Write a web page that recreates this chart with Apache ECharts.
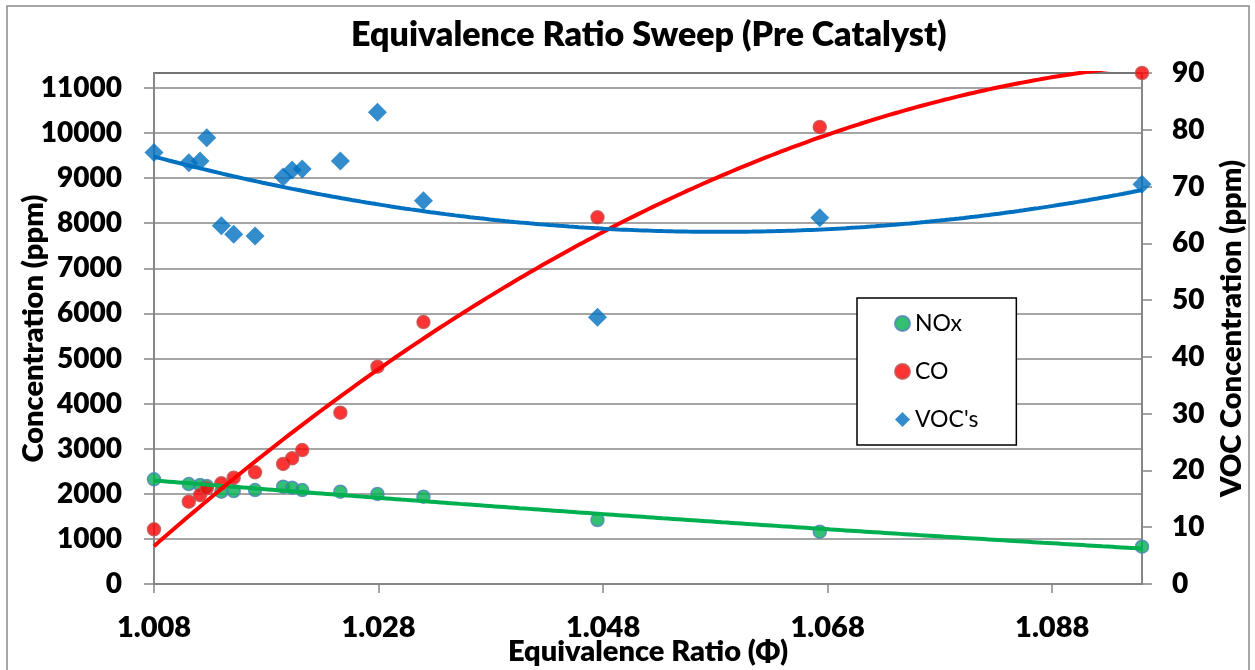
<!DOCTYPE html>
<html>
<head>
<meta charset="utf-8">
<script src="https://cdn.jsdelivr.net/npm/echarts@6/dist/echarts.min.js"></script>
<style>
html,body{margin:0;padding:0;background:#fff;}
#chart{width:1255px;height:670px;}
</style>
</head>
<body>
<div id="chart"></div>
<script>
// ---- data ----
const phi = [1.008, 1.0111, 1.0121, 1.0127, 1.0140, 1.0151, 1.0170, 1.0195, 1.0203, 1.0212, 1.0246, 1.0279, 1.0320, 1.0475, 1.0673, 1.0960];
const noxVals = [2321, 2217, 2195, 2173, 2047, 2062, 2084, 2157, 2135, 2084, 2047, 1996, 1936, 1419, 1160, 827];
const coVals = [1213, 1825, 1973, 2122, 2233, 2357, 2477, 2661, 2787, 2971, 3798, 4818, 5809, 8131, 10133, 11330];
const vocVals = [76.0, 74.2, 74.5, 78.6, 63.1, 61.6, 61.3, 71.7, 72.9, 73.1, 74.5, 83.1, 67.5, 47.0, 64.5, 70.4];
const xTicks = {min: 1.008, max: 1.096, interval: 0.02};
const leftTicks = {min: 0, max: 11330, interval: 1000};
const rightTicks = {min: 0, max: 90, interval: 10};
const seriesNames = ['NOx', 'CO', "VOC's"];

// ---- 2nd order polynomial trendline (least squares, like Excel) ----
function polyFit2(xs, ys) {
  const c = 1.05, k = 100;
  let S = [0,0,0,0,0], T = [0,0,0];
  for (let i = 0; i < xs.length; i++) {
    const t = (xs[i] - c) * k;
    let p = 1;
    for (let j = 0; j < 5; j++) { S[j] += p; if (j < 3) T[j] += p * ys[i]; p *= t; }
  }
  const A = [[S[0],S[1],S[2],T[0]],[S[1],S[2],S[3],T[1]],[S[2],S[3],S[4],T[2]]];
  for (let i = 0; i < 3; i++) {
    for (let r = i + 1; r < 3; r++) {
      const f = A[r][i] / A[i][i];
      for (let q = i; q < 4; q++) A[r][q] -= f * A[i][q];
    }
  }
  const b = [0,0,0];
  for (let i = 2; i >= 0; i--) {
    let s = A[i][3];
    for (let q = i + 1; q < 3; q++) s -= A[i][q] * b[q];
    b[i] = s / A[i][i];
  }
  return x => { const t = (x - c) * k; return b[0] + b[1] * t + b[2] * t * t; };
}
function trend(xs, ys) {
  const f = polyFit2(xs, ys);
  const out = [];
  const n = 200;
  for (let i = 0; i <= n; i++) {
    const x = xTicks.min + (xTicks.max - xTicks.min) * i / n;
    out.push([x, f(x)]);
  }
  return out;
}
const pair = (xs, ys) => xs.map((x, i) => [x, ys[i]]);

const FONT = 'Lato';
const BOLD = 800;
const GRAY = '#878787';
const chart = echarts.init(document.getElementById('chart'));
chart.setOption({
  animation: false,
  backgroundColor: '#fff',
  title: {
    text: 'Equivalence Ratio Sweep (Pre Catalyst)',
    left: 346, top: 13,
    textStyle: {fontFamily: FONT, fontWeight: BOLD, fontSize: 34, color: '#000'}
  },
  graphic: [{
    type: 'rect', shape: {x: 7, y: 6, width: 1242, height: 700},
    style: {fill: 'none', stroke: '#8a8a8a', lineWidth: 1.5}, silent: true, z: -10
  }],
  grid: {left: 154, right: 113, top: 73, bottom: 86, outerBoundsMode: 'none', containLabel: false,
    show: true, borderColor: '#000', borderWidth: 1.5, backgroundColor: '#fff'},
  legend: {
    orient: 'vertical', left: 857, top: 298,
    data: seriesNames,
    itemWidth: 15, itemHeight: 15, itemGap: 25,
    padding: [14, 38, 14, 37],
    backgroundColor: '#fff', borderColor: '#000', borderWidth: 1.5,
    textStyle: {fontFamily: FONT, fontSize: 23, color: '#000', lineHeight: 23}
  },
  xAxis: {
    type: 'value', min: xTicks.min, max: xTicks.max, interval: xTicks.interval,
    name: 'Equivalence Ratio (Φ)', nameLocation: 'middle', nameGap: 53, nameMoveOverlap: false,
    nameTextStyle: {fontFamily: FONT, fontWeight: BOLD, fontSize: 29, color: '#000'},
    axisLine: {show: true, lineStyle: {color: GRAY, width: 2}},
    axisTick: {show: true, length: 9, lineStyle: {color: GRAY, width: 1.5}},
    axisLabel: {fontFamily: FONT, fontWeight: BOLD, fontSize: 29, color: '#000', margin: 29, showMaxLabel: false,
      formatter: v => v.toFixed(3)},
    splitLine: {show: false}
  },
  yAxis: [{
    type: 'value', min: leftTicks.min, max: leftTicks.max, interval: leftTicks.interval,
    name: 'Concentration (ppm)', nameLocation: 'middle', nameGap: 106, nameRotate: 90, nameMoveOverlap: false,
    nameTextStyle: {fontFamily: FONT, fontWeight: BOLD, fontSize: 29, color: '#000'},
    axisLine: {show: true, lineStyle: {color: GRAY, width: 2}},
    axisTick: {show: true, length: 10, lineStyle: {color: GRAY, width: 1.5}},
    axisLabel: {fontFamily: FONT, fontWeight: BOLD, fontSize: 28, color: '#000', margin: 32, showMaxLabel: false,
      formatter: v => String(Math.round(v))},
    splitLine: {show: true, lineStyle: {color: GRAY, width: 1.5}}
  }, {
    type: 'value', position: 'right', min: rightTicks.min, max: rightTicks.max, interval: rightTicks.interval,
    name: 'VOC Concentration (ppm)', nameLocation: 'middle', nameGap: 75, nameRotate: 90, nameMoveOverlap: false,
    nameTextStyle: {fontFamily: FONT, fontWeight: BOLD, fontSize: 29, color: '#000'},
    axisLine: {show: true, lineStyle: {color: GRAY, width: 2}},
    axisTick: {show: true, length: 10, lineStyle: {color: GRAY, width: 1.5}},
    axisLabel: {fontFamily: FONT, fontWeight: BOLD, fontSize: 28, color: '#000', margin: 30,
      formatter: v => String(Math.round(v))},
    splitLine: {show: false}
  }],
  series: [
    {name: 'NOx', type: 'scatter', data: pair(phi, noxVals), symbol: 'circle', symbolSize: 13, clip: false,
      itemStyle: {color: '#00B050', borderColor: '#4F81BD', borderWidth: 1.5}, z: 3},
    {name: 'CO', type: 'scatter', data: pair(phi, coVals), symbol: 'circle', symbolSize: 13, clip: false,
      itemStyle: {color: '#FF0000', borderColor: '#C0504D', borderWidth: 1.5}, z: 3},
    {name: "VOC's", type: 'scatter', yAxisIndex: 1, data: pair(phi, vocVals), symbol: 'diamond', symbolSize: 19, clip: false,
      itemStyle: {color: '#0070C0'}, z: 3},
    {name: 'NOx trend', type: 'line', data: trend(phi, noxVals), showSymbol: false, symbol: 'none', clip: true,
      lineStyle: {color: '#00B050', width: 4}, z: 4},
    {name: 'CO trend', type: 'line', data: trend(phi, coVals), showSymbol: false, symbol: 'none', clip: true,
      lineStyle: {color: '#FF0000', width: 4}, z: 4},
    {name: 'VOC trend', type: 'line', yAxisIndex: 1, data: trend(phi, vocVals), showSymbol: false, symbol: 'none', clip: true,
      lineStyle: {color: '#0070C0', width: 4}, z: 4}
  ]
});
</script>
</body>
</html>
